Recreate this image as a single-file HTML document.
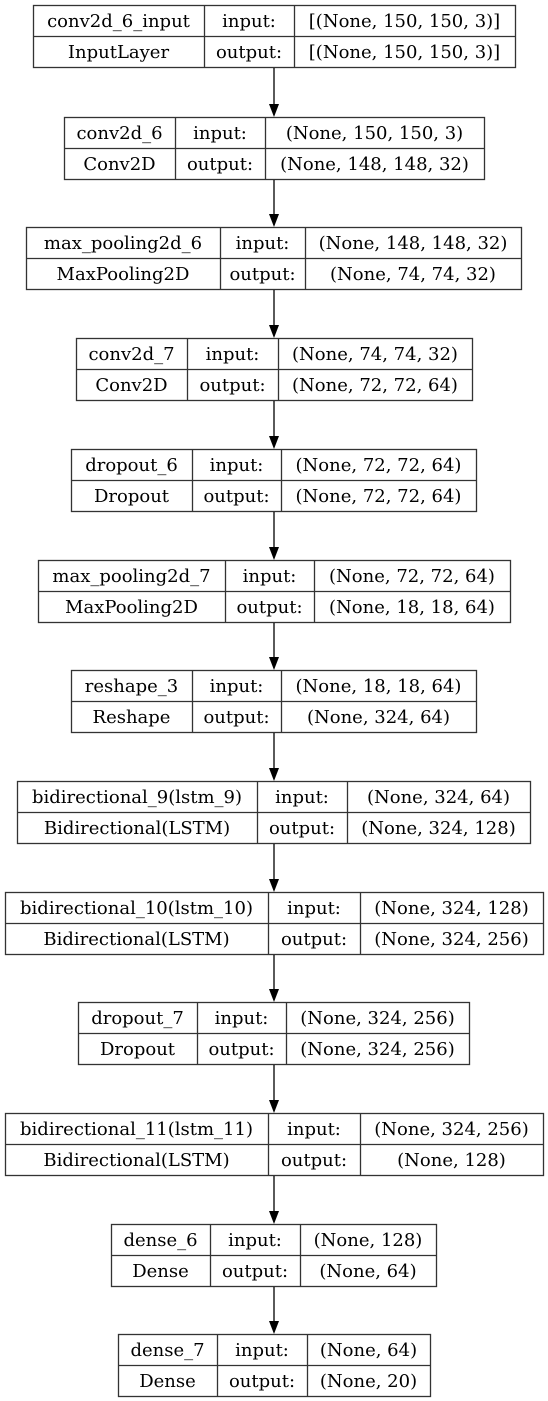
<!DOCTYPE html>
<html><head><meta charset="utf-8"><style>
html,body{margin:0;padding:0;background:#fff;}
svg{display:block;}
svg text{font-family:"DejaVu Serif","Liberation Serif",serif;font-size:18px;fill:#000;}
</style></head><body>
<svg id="g" width="548" height="1401"></svg>
<script>
const names=["conv2d_6_input","conv2d_6","max_pooling2d_6","conv2d_7","dropout_6","max_pooling2d_7","reshape_3","bidirectional_9(lstm_9)","bidirectional_10(lstm_10)","dropout_7","bidirectional_11(lstm_11)","dense_6","dense_7"];
const types=["InputLayer","Conv2D","MaxPooling2D","Conv2D","Dropout","MaxPooling2D","Reshape","Bidirectional(LSTM)","Bidirectional(LSTM)","Dropout","Bidirectional(LSTM)","Dense","Dense"];
const inputs=["[(None, 150, 150, 3)]","(None, 150, 150, 3)","(None, 148, 148, 32)","(None, 74, 74, 32)","(None, 72, 72, 64)","(None, 72, 72, 64)","(None, 18, 18, 64)","(None, 324, 64)","(None, 324, 128)","(None, 324, 256)","(None, 324, 256)","(None, 128)","(None, 64)"];
const outputs=["[(None, 150, 150, 3)]","(None, 148, 148, 32)","(None, 74, 74, 32)","(None, 72, 72, 64)","(None, 72, 72, 64)","(None, 18, 18, 64)","(None, 324, 64)","(None, 324, 128)","(None, 324, 256)","(None, 324, 256)","(None, 128)","(None, 64)","(None, 20)"];
const geo=[[33,204,294,515,5],[64,175,265,484,117],[26,220,305,521,227],[76,187,278,472,338],[71,192,281,476,449],[38,225,314,510,560],[71,192,281,476,670],[17,257,347,530,781],[5,268,360,543,892],[78,197,286,469,1002],[5,268,360,543,1113],[111,210,300,436,1224],[118,217,307,430,1334]];
const H=62,NS="http://www.w3.org/2000/svg",svg=document.getElementById('g');
function mk(tag,attrs,parent){const e=document.createElementNS(NS,tag);for(const k in attrs)e.setAttribute(k,attrs[k]);parent.appendChild(e);return e;}
function txt(p,x,y,s){const t=mk('text',{x:x,y:y,'text-anchor':'middle','dominant-baseline':'central','font-family':'DejaVu Serif, Liberation Serif, serif'},p);t.textContent=s;return t;}
const ax=274;
names.forEach((n,i)=>{
  const [l,c1,c2,r,t]=geo[i],m=t+H/2;
  const grp=mk('g',{},svg);
  
  
  mk('rect',{x:l+0.5,y:t+0.5,width:r-l,height:H,fill:'#fff',stroke:'#333','stroke-width':1.3},grp);
  mk('line',{x1:l,y1:m+0.5,x2:r,y2:m+0.5,stroke:'#333','stroke-width':1.3},grp);
  mk('line',{x1:c1+0.5,y1:t,x2:c1+0.5,y2:t+H,stroke:'#333','stroke-width':1.3},grp);
  mk('line',{x1:c2+0.5,y1:t,x2:c2+0.5,y2:t+H,stroke:'#333','stroke-width':1.3},grp);
  const ty1=t+H/4+1,ty2=t+3*H/4+1;
  txt(grp,(l+c1)/2,ty1,n);txt(grp,(l+c1)/2,ty2,types[i]);
  txt(grp,(c1+c2)/2,ty1,'input:');txt(grp,(c1+c2)/2,ty2,'output:');
  txt(grp,(c2+r)/2,ty1,inputs[i]);txt(grp,(c2+r)/2,ty2,outputs[i]);
  if(i<names.length-1){
    const y0=t+H+1,y1=geo[i+1][4];
    const a=mk('g',{},svg);
    
    
    mk('line',{x1:ax,y1:y0,x2:ax,y2:y1-12,stroke:'#000','stroke-width':1.3},a);
    mk('polygon',{points:`${ax-5},${y1-13} ${ax+5},${y1-13} ${ax},${y1}`,fill:'#000'},a);
  }
});
</script>
</body></html>
